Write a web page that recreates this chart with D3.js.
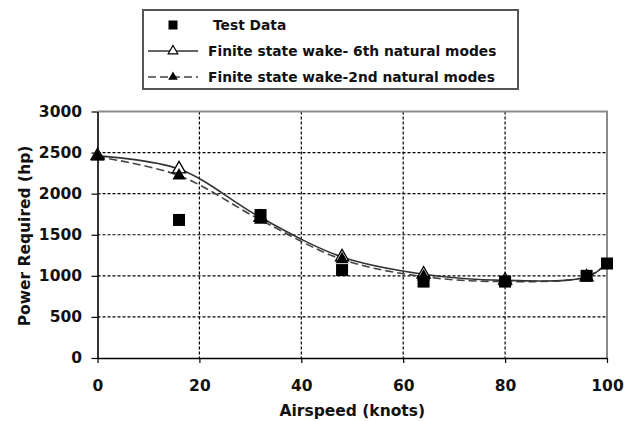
<!DOCTYPE html>
<html><head><meta charset="utf-8">
<script src="https://cdn.jsdelivr.net/npm/d3@7/dist/d3.min.js"></script>
<style>body{margin:0;background:#fff}svg{display:block}</style></head>
<body>
<svg id="c" width="644" height="421"></svg>
<script>
// ---- data ----
const airspeed = [0, 16, 32, 48, 64, 80, 96, 100];
const wake6th = [2460, 2300, 1710, 1230, 1020, 945, 985, 1150];
const wake2nd = [2450, 2220, 1680, 1200, 990, 930, 990, 1150];
const testSpeed = [16, 32, 48, 64, 80, 96, 100];
const testPower = [1680, 1740, 1070, 930, 930, 1000, 1150];
const xTicks = [0, 20, 40, 60, 80, 100];
const yTicks = [0, 500, 1000, 1500, 2000, 2500, 3000];
const legendLabels = ["Test Data", "Finite state wake- 6th natural modes", "Finite state wake-2nd natural modes"];
const xTitle = "Airspeed (knots)";
const yTitle = "Power Required (hp)";

// ---- layout ----
const L = 97.5, R = 607, T = 111.5, B = 358;
const svg = d3.select("#c");
const font = "'DejaVu Sans', Verdana, sans-serif";
const x = d3.scaleLinear().domain([0, 100]).range([L, R]);
const y = d3.scaleLinear().domain([0, 3000]).range([B, T]);

// gridlines
const grid = svg.append("g");
grid.selectAll("line.h").data(yTicks.filter(v => v > 0 && v < 3000)).enter().append("line")
  .attr("x1", L).attr("x2", R).attr("y1", d => y(d)).attr("y2", d => y(d))
  .attr("stroke", "#000").attr("stroke-width", 1.2).attr("stroke-dasharray", "3,2");
grid.selectAll("line.v").data(xTicks.filter(v => v > 0 && v < 100)).enter().append("line")
  .attr("y1", T).attr("y2", B).attr("x1", d => x(d)).attr("x2", d => x(d))
  .attr("stroke", "#000").attr("stroke-width", 1.2).attr("stroke-dasharray", "3,2");

// plot border (top/right gray)
svg.append("path").attr("d", `M${L},${T}H${R}V${B}`).attr("fill", "none")
  .attr("stroke", "#8a8a8a").attr("stroke-width", 2);

// axes
const yAxis = d3.axisLeft(y).tickValues(yTicks).tickFormat(d3.format("d")).tickSize(6).tickPadding(9.5).tickSizeOuter(0);
const gy = svg.append("g").attr("transform", `translate(${L},0)`).call(yAxis);
const xAxis = d3.axisBottom(x).tickValues(xTicks).tickFormat(d3.format("d")).tickSize(5).tickSizeOuter(0);
const gx = svg.append("g").attr("transform", `translate(0,${B})`).call(xAxis);
[gy, gx].forEach(g => {
  g.select(".domain").attr("stroke", "#000").attr("stroke-width", 1.6);
  g.selectAll(".tick line").attr("stroke", "#000").attr("stroke-width", 1.2);
  g.selectAll(".tick text").attr("font-family", font).attr("font-weight", "bold")
    .attr("font-size", 15.5).attr("fill", "#111");
});
gx.selectAll(".tick text").attr("y", 28).attr("dy", "0.35em");

// titles
svg.append("text").attr("x", (L + R) / 2).attr("y", 411).attr("dy", "0.35em").attr("text-anchor", "middle")
  .attr("font-family", font).attr("font-weight", "bold").attr("font-size", 15.5).attr("fill", "#111").text(xTitle);
svg.append("text").attr("transform", `translate(25,236) rotate(-90)`).attr("dy", "0.35em").attr("text-anchor", "middle")
  .attr("font-family", font).attr("font-weight", "bold").attr("font-size", 15.5).attr("fill", "#111").text(yTitle);

// lines
const line = d3.line().x(d => x(d[0])).y(d => y(d[1])).curve(d3.curveCatmullRom.alpha(0.5));
const s6 = airspeed.map((v, i) => [v, wake6th[i]]);
const s2 = airspeed.map((v, i) => [v, wake2nd[i]]);
svg.append("path").datum(s2).attr("d", line).attr("fill", "none")
  .attr("stroke", "#444").attr("stroke-width", 1.6).attr("stroke-dasharray", "8,4");
svg.append("path").datum(s6).attr("d", line).attr("fill", "none")
  .attr("stroke", "#333").attr("stroke-width", 1.6);

const tri = d3.symbol().type(d3.symbolTriangle).size(75);
svg.append("g").selectAll("path").data(s6.slice(0, 7)).enter().append("path")
  .attr("d", tri).attr("transform", d => `translate(${x(d[0])},${y(d[1])})`)
  .attr("fill", "#fff").attr("stroke", "#000").attr("stroke-width", 1.3);
svg.append("g").selectAll("path").data(s2.slice(0, 7)).enter().append("path")
  .attr("d", tri).attr("transform", d => `translate(${x(d[0])},${y(d[1])})`)
  .attr("fill", "#000");
const sq = 12;
svg.append("g").selectAll("rect").data(testSpeed.map((v, i) => [v, testPower[i]])).enter().append("rect")
  .attr("x", d => x(d[0]) - sq / 2).attr("y", d => y(d[1]) - sq / 2)
  .attr("width", sq).attr("height", sq).attr("fill", "#000");

// legend
const lg = svg.append("g");
lg.append("rect").attr("x", 143).attr("y", 10).attr("width", 375).attr("height", 79)
  .attr("fill", "#fff").attr("stroke", "#555").attr("stroke-width", 2);
const rowsY = [25, 51, 77];
lg.append("rect").attr("x", 173 - 4.5).attr("y", rowsY[0] - 4.5).attr("width", 9).attr("height", 9).attr("fill", "#000");
lg.append("line").attr("x1", 148).attr("x2", 198).attr("y1", rowsY[1]).attr("y2", rowsY[1])
  .attr("stroke", "#333").attr("stroke-width", 1.6);
lg.append("path").attr("d", d3.symbol().type(d3.symbolTriangle).size(40))
  .attr("transform", `translate(173,${rowsY[1]})`).attr("fill", "#fff").attr("stroke", "#000").attr("stroke-width", 1.2);
lg.append("line").attr("x1", 148).attr("x2", 198).attr("y1", rowsY[2]).attr("y2", rowsY[2])
  .attr("stroke", "#444").attr("stroke-width", 1.6).attr("stroke-dasharray", "8,4");
lg.append("path").attr("d", d3.symbol().type(d3.symbolTriangle).size(40))
  .attr("transform", `translate(173,${rowsY[2]})`).attr("fill", "#000");
lg.selectAll("text").data(legendLabels).enter().append("text")
  .attr("x", (d, i) => i === 0 ? 213 : 208).attr("y", (d, i) => rowsY[i]).attr("dy", "0.35em")
  .attr("font-family", font).attr("font-weight", "bold").attr("font-size", 13.8).attr("fill", "#111")
  .text(d => d);
</script>
</body></html>
